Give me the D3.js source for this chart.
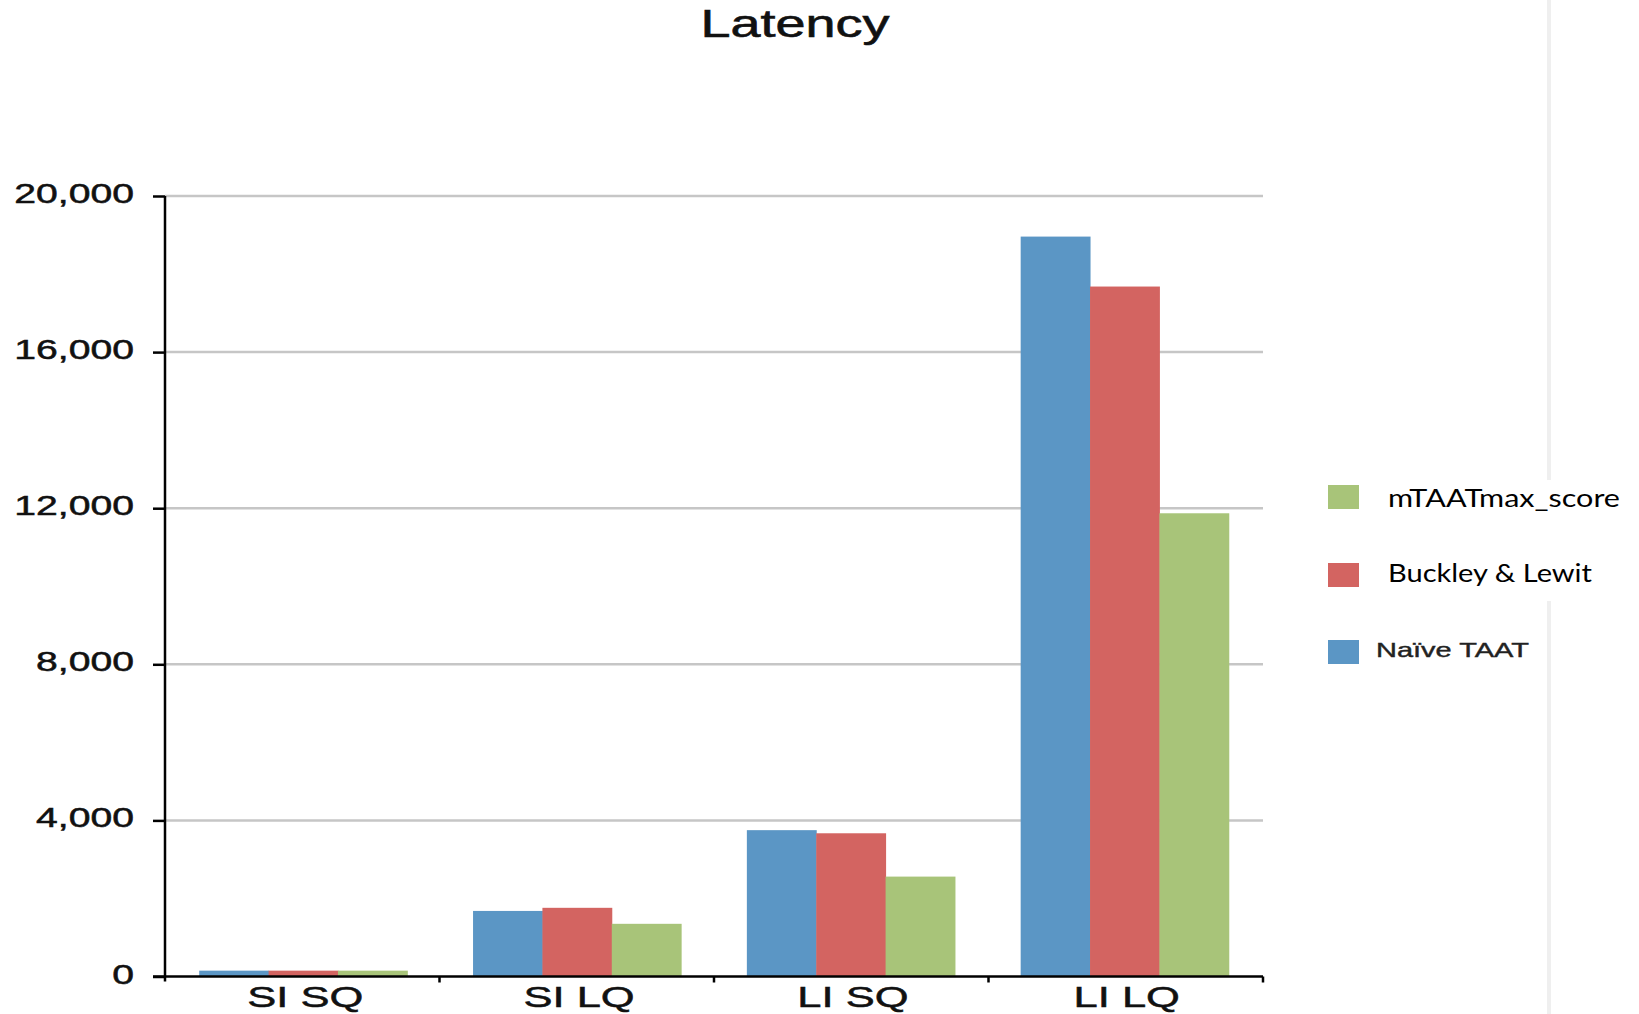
<!DOCTYPE html>
<html>
<head>
<meta charset="utf-8">
<script src="https://cdn.jsdelivr.net/npm/d3@7"></script>
<style>
  html, body { margin: 0; padding: 0; background: #ffffff; }
  svg { display: block; }
</style>
</head>
<body>
<svg id="chart" width="1639" height="1014"></svg>
<script>
// Latency per workload, one array per method
const categories = ["SI SQ", "SI LQ", "LI SQ", "LI LQ"];
const naiveTaat  = [150, 1680, 3750, 18960];
const buckley    = [150, 1760, 3670, 17680];
const mtaat      = [150, 1350, 2560, 11870];
const seriesNames = ["Naïve TAAT", "Buckley & Lewit", "mTAATmax_score"];
const yTicks = [0, 4000, 8000, 12000, 16000, 20000];
const titleText = "Latency";

const colors = ["#5b96c5", "#d36461", "#a8c479"];
const series = [naiveTaat, buckley, mtaat];

const svg = d3.select("#chart");
const plotLeft = 165, plotRight = 1263, plotTop = 196, plotBottom = 976.5;
const stretch = 1.45; // the chart's labels are drawn horizontally widened
const sansFont = "Liberation Sans, Arial, sans-serif";

const x0 = d3.scaleBand().domain(categories).range([plotLeft, plotRight])
  .paddingInner(0.24).paddingOuter(0.125);
const x1 = d3.scaleBand().domain(d3.range(series.length)).range([0, x0.bandwidth()]);
const y = d3.scaleLinear().domain([0, 20000]).range([plotBottom, plotTop]);

// faint page divider on the right
svg.append("line").attr("x1", 1549).attr("x2", 1549).attr("y1", 0).attr("y2", 480)
  .attr("stroke", "#efefef").attr("stroke-width", 4);
svg.append("line").attr("x1", 1549).attr("x2", 1549).attr("y1", 601).attr("y2", 1014)
  .attr("stroke", "#efefef").attr("stroke-width", 4);

// gridlines
svg.append("g").selectAll("line").data(yTicks.filter(d => d > 0)).join("line")
  .attr("x1", plotLeft).attr("x2", plotRight)
  .attr("y1", d => y(d)).attr("y2", d => y(d))
  .attr("stroke", "#c6c6c6").attr("stroke-width", 2.5);

// bars
const groups = svg.append("g").selectAll("g").data(categories).join("g")
  .attr("transform", c => `translate(${x0(c)},0)`);
groups.selectAll("rect")
  .data((c, ci) => series.map((s, si) => ({ si, v: s[ci] })))
  .join("rect")
  .attr("x", d => x1(d.si))
  .attr("width", x1.bandwidth() + 0.5)
  .attr("y", d => y(d.v))
  .attr("height", d => y(0) - y(d.v))
  .attr("fill", d => colors[d.si]);

// y axis
const yAxis = svg.append("g").attr("transform", `translate(${plotLeft},0)`)
  .call(d3.axisLeft(y).tickValues(yTicks).tickSize(12).tickFormat(""));
yAxis.select(".domain").attr("stroke", "#000").attr("stroke-width", 2.5)
  .attr("d", `M0,${plotTop}V${plotBottom + 5}`);
yAxis.selectAll(".tick line").attr("stroke", "#000").attr("stroke-width", 2.5);

// y tick labels
const fmt = d3.format(",");
svg.append("g").selectAll("text").data(yTicks).join("text")
  .attr("transform", d => `translate(134,${y(d) + 7}) scale(${stretch},1)`)
  .attr("text-anchor", "end")
  .attr("font-family", sansFont)
  .attr("font-size", 27)
  .attr("fill", "#111").attr("stroke", "#111").attr("stroke-width", 0.5)
  .text(d => fmt(d));

// x axis
const xAxis = svg.append("g").attr("transform", `translate(0,${plotBottom})`)
  .call(d3.axisBottom(x0).tickSize(0).tickFormat(""));
xAxis.select(".domain").attr("stroke", "#000").attr("stroke-width", 2.5)
  .attr("d", `M153,0H${plotRight}`);
xAxis.selectAll(".tick").remove();
const bounds = d3.range(1, categories.length + 1)
  .map(k => plotLeft + k * (plotRight - plotLeft) / categories.length);
xAxis.selectAll("line.sep").data(bounds).join("line")
  .attr("class", "sep")
  .attr("x1", d => d).attr("x2", d => d).attr("y1", 0).attr("y2", 6)
  .attr("stroke", "#000").attr("stroke-width", 2.5);

// category labels
svg.append("g").selectAll("text").data(categories).join("text")
  .attr("transform", c => `translate(${x0(c) + x0.bandwidth() / 2 + 2},1006.7) scale(${stretch},1)`)
  .attr("text-anchor", "middle")
  .attr("font-family", sansFont)
  .attr("font-size", 30)
  .attr("fill", "#111").attr("stroke", "#111").attr("stroke-width", 0.5)
  .text(c => c);

// title
svg.append("text")
  .attr("transform", `translate(795,37) scale(1.42,1)`)
  .attr("text-anchor", "middle")
  .attr("font-family", sansFont)
  .attr("font-size", 38)
  .attr("fill", "#111").attr("stroke", "#111").attr("stroke-width", 0.6)
  .text(titleText);

// legend, top to bottom: mTAATmax_score, Buckley & Lewit, Naïve TAAT
const legendRows = [
  { i: 2, ty: 506.7, w: 232 },
  { i: 1, ty: 581.7, w: 204 }
];
const legend = svg.append("g");
legend.selectAll("rect").data([2, 1, 0]).join("rect")
  .attr("x", 1328).attr("width", 31).attr("height", 24)
  .attr("y", (d, k) => [485, 563, 640][k])
  .attr("fill", d => colors[d]);
legend.selectAll("text.cal").data(legendRows).join("text")
  .attr("class", "cal")
  .attr("x", 1388).attr("y", d => d.ty)
  .attr("font-family", "Lato, 'Open Sans', sans-serif")
  .attr("font-size", 25)
  .attr("fill", "#000")
  .attr("textLength", d => d.w)
  .attr("lengthAdjust", "spacingAndGlyphs")
  .text(d => seriesNames[d.i]);
legend.append("text")
  .attr("transform", `translate(1376,656.7) scale(1.45,1)`)
  .attr("font-family", sansFont)
  .attr("font-size", 20)
  .attr("fill", "#222").attr("stroke", "#222").attr("stroke-width", 0.4)
  .text(seriesNames[0]);
</script>
</body>
</html>
